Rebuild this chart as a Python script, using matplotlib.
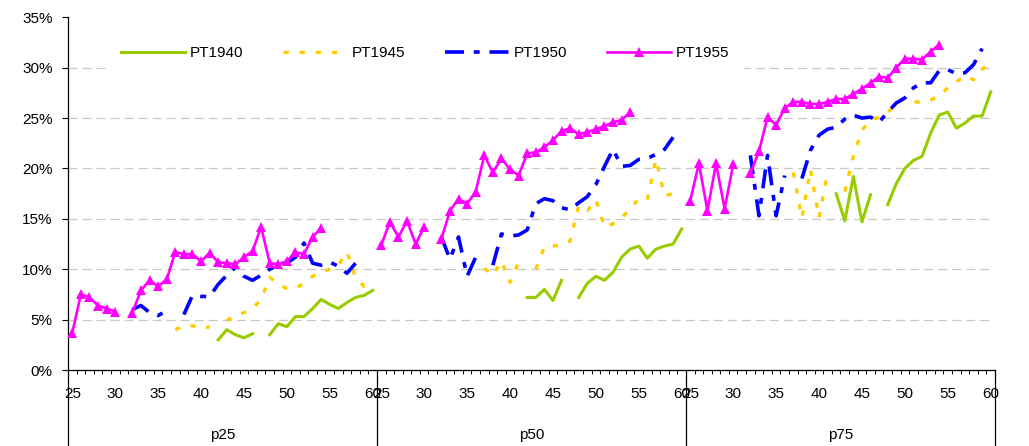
import numpy as np
import matplotlib
matplotlib.use("Agg")
import matplotlib.pyplot as plt
from matplotlib.ticker import FuncFormatter
from matplotlib.transforms import blended_transform_factory

plt.rcParams['font.family'] = ['Liberation Sans', 'DejaVu Sans']
plt.rcParams['lines.scale_dashes'] = False

# ---------------- data ----------------
ages = list(range(25, 61))          # categories inside each group
groups = ['p25', 'p50', 'p75']       # outer category level
N = None

pt1940_p25 = [N]*17 + [3.0, 4.0, 3.5, 3.2, 3.6, N, 3.5, 4.6, 4.3, 5.3, 5.3, 6.1, 7.0, 6.5, 6.1, 6.7, 7.2, 7.4, 7.9]
pt1940_p50 = [N]*17 + [7.2, 7.2, 8.0, 6.9, 8.9, N, 7.2, 8.6, 9.3, 8.9, 9.7, 11.2, 12.0, 12.3, 11.1, 12.0, 12.3, 12.5, 14.0]
pt1940_p75 = [N]*17 + [17.5, 14.8, 19.2, 14.7, 17.4, N, 16.4, 18.5, 20.0, 20.8, 21.2, 23.5, 25.3, 25.6, 24.0, 24.5, 25.2, 25.2, 27.6]

pt1945_p25 = [N]*12 + [4.0, 4.4, 4.4, 4.1, 4.3, N, 4.9, 5.4, 5.7, 6.1, 7.0, 9.2, 8.5, 8.1, 8.1, 8.6, 9.3, 9.7, 10.0, 10.4, 11.7, 9.2, 8.3, 8.3]
pt1945_p50 = [N]*12 + [10.1, 9.4, 10.8, 8.7, 10.7, N, 10.0, 12.2, 12.3, 12.4, 12.8, 16.3, 15.8, 16.9, 14.2, 14.5, 15.1, 16.0, 17.0, 16.9, 20.9, 17.3, 17.5, 17.4]
pt1945_p75 = [N]*12 + [19.6, 15.1, 19.9, 15.1, 19.6, N, 17.7, 21.2, 23.8, 24.8, 25.1, 25.6, 26.3, 27.0, 26.6, 26.6, 26.8, 27.2, 28.0, 28.6, 29.2, 28.8, 29.8, 30.6]

pt1950_p25 = [N]*7 + [6.0, 6.4, 5.7, 5.4, 5.9, N, 5.5, 7.4, 7.3, 7.3, 8.5, 9.4, 10.2, 9.3, 8.9, 9.4, 10.0, 10.4, 10.6, 11.2, 12.6, 10.6, 10.4, 10.7, 10.3, 9.6, 10.6, N, N]
pt1950_p50 = [N]*7 + [13.2, 11.0, 13.2, 9.3, 11.2, N, 10.4, 13.5, 13.3, 13.4, 13.9, 16.5, 17.0, 16.8, 16.1, 15.9, 16.6, 17.2, 18.4, 20.2, 21.9, 20.2, 20.3, 20.9, 21.0, 21.4, 21.9, 23.1, N]
pt1950_p75 = [N]*7 + [21.3, 15.3, 21.3, 15.3, 19.3, N, 19.0, 21.8, 23.3, 23.9, 24.1, 24.9, 25.3, 25.0, 25.1, 24.6, 25.6, 26.5, 27.0, 28.0, 28.5, 28.5, 29.7, 29.8, 29.4, 29.5, 30.3, 31.9, N]

pt1955_p25 = [3.7, 7.5, 7.2, 6.4, 6.1, 5.8, N, 5.7, 7.9, 8.9, 8.3, 9.0, 11.7, 11.5, 11.5, 10.8, 11.6, 10.7, 10.6, 10.5, 11.2, 11.8, 14.2, 10.6, 10.5, 10.8, 11.7, 11.5, 13.2, 14.1] + [N]*6
pt1955_p50 = [12.4, 14.7, 13.2, 14.8, 12.5, 14.2, N, 13.0, 15.8, 17.0, 16.5, 17.7, 21.3, 19.6, 21.0, 19.9, 19.3, 21.5, 21.6, 22.1, 22.8, 23.7, 24.0, 23.4, 23.6, 23.9, 24.2, 24.6, 24.8, 25.6] + [N]*6
pt1955_p75 = [16.8, 20.5, 15.8, 20.5, 16.0, 20.4, N, 19.5, 21.7, 25.1, 24.3, 26.0, 26.6, 26.6, 26.4, 26.4, 26.6, 26.9, 26.9, 27.4, 27.9, 28.5, 29.1, 29.0, 30.0, 30.9, 30.9, 30.8, 31.6, 32.3] + [N]*6

series_names = ['PT1940', 'PT1945', 'PT1950', 'PT1955']
series_parts = [
    [pt1940_p25, pt1940_p50, pt1940_p75],
    [pt1945_p25, pt1945_p50, pt1945_p75],
    [pt1950_p25, pt1950_p50, pt1950_p75],
    [pt1955_p25, pt1955_p50, pt1955_p75],
]
y_ticks = [0, 5, 10, 15, 20, 25, 30, 35]
age_labels = [25, 30, 35, 40, 45, 50, 55, 60]

# ---------------- styles ----------------
styles = [
    dict(color='#99CC00', lw=2.2, ls='-'),
    dict(color='#FFCC00', lw=2.4, ls=(0, (3.8, 7.8))),
    dict(color='#0000FF', lw=2.6, ls=(0, (13.7, 7.0, 4.3, 7.0))),
    dict(color='#FF00FF', lw=1.9, ls='-', marker='^', markersize=7, markeredgewidth=0),
]

W, H = 1029, 446
fig = plt.figure(figsize=(W / 100, H / 100), dpi=100)
ax_left, ax_right, ax_top, ax_bottom = 68, 995, 17.3, 370
ax = fig.add_axes([ax_left / W, (H - ax_bottom) / H, (ax_right - ax_left) / W, (ax_bottom - ax_top) / H])

n_per = len(ages)
x = np.arange(len(groups) * n_per)


def combine(parts):
    return np.array([np.nan if v is None else v for p in parts for v in p], dtype=float)


handles = []
for name, parts, st in zip(series_names, series_parts, styles):
    h, = ax.plot(x, combine(parts), label=name, zorder=3, **st)
    handles.append(h)

ax.set_xlim(-0.5, len(x) - 0.5)
ax.set_ylim(y_ticks[0], y_ticks[-1])

# gridlines
for v in y_ticks[1:-1]:
    ax.axhline(v, color='#C8C8C8', lw=0.9, ls=(0, (6.5, 3.6)), zorder=0.5)

for s in ['top', 'right']:
    ax.spines[s].set_visible(False)
for s in ['left', 'bottom']:
    ax.spines[s].set_color('black')
    ax.spines[s].set_linewidth(0.9)

ax.set_yticks(y_ticks)
ax.yaxis.set_major_formatter(FuncFormatter(lambda v, p: f'{v:.0f}%'))
ax.tick_params(axis='y', direction='out', length=4, width=0.8, pad=7, labelsize=11, colors='black')

major_pos = [g * n_per + ages.index(a) for g in range(len(groups)) for a in age_labels]
major_lab = [str(a) for g in range(len(groups)) for a in age_labels]
ax.set_xticks(major_pos)
ax.set_xticklabels(major_lab)
ax.tick_params(axis='x', which='major', length=0, pad=12, labelsize=11)
ax.set_xticks(np.arange(-0.5, len(x), 1), minor=True)
ax.tick_params(axis='x', which='minor', direction='out', length=3, width=0.7)

trans = blended_transform_factory(ax.transData, ax.transAxes)
ax_h = ax_bottom - ax_top
low = -(H - ax_bottom) / ax_h
for g in range(len(groups) + 1):
    xb = g * n_per - 0.5
    ax.plot([xb, xb], [0, low], transform=trans, color='black', lw=0.9, clip_on=False)
for g, name in enumerate(groups):
    ax.text(g * n_per + (n_per - 1) / 2, -(435 - ax_bottom) / ax_h, name, transform=trans,
            ha='center', va='center', fontsize=11)

leg = ax.legend(handles=handles, loc='upper left', bbox_to_anchor=(105.7 / W, 1 - 31 / H),
                bbox_transform=fig.transFigure, ncol=4, frameon=True, fancybox=False,
                facecolor='white', edgecolor='none', framealpha=1, fontsize=11,
                handlelength=4.2, handletextpad=0.3, columnspacing=2.6, borderpad=1.0,
                borderaxespad=0, numpoints=1)

fig.savefig('out.png', dpi=100)
